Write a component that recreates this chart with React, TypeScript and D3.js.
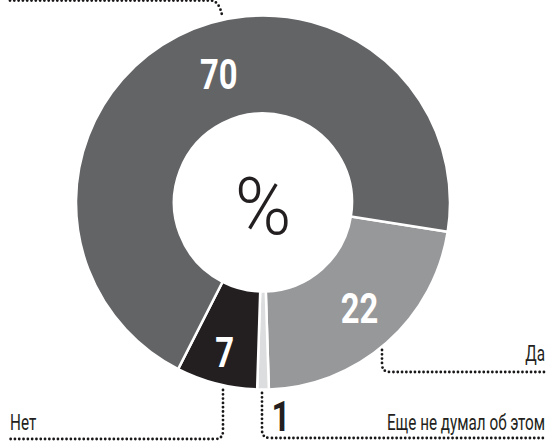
import React from "react";
import * as d3 from "d3";

// Data
const categories = ["Да", "Еще не думал об этом", "Нет", ""];
const values = [22, 1, 7, 70];
const sliceColors = ["#97989a", "#dcddde", "#231f20", "#636466"];
const centerSymbol = "%";

const W = 547;
const H = 444;
const FONT = "Roboto, 'Noto Sans', sans-serif";
const SX = 0.78; // horizontal condensing factor

function CText(props: {
  x: number;
  y: number;
  size: number;
  anchor?: "start" | "middle" | "end";
  weight?: number | string;
  fill: string;
  sx?: number;
  dy?: string;
  children: React.ReactNode;
}) {
  const { x, y, size, anchor = "start", weight = 400, fill, sx = SX, dy, children } = props;
  return (
    <text
      transform={`translate(${x},${y}) scale(${sx},1)`}
      dy={dy}
      textAnchor={anchor}
      fontSize={size}
      fontWeight={weight}
      fill={fill}
    >
      {children}
    </text>
  );
}

export default function App() {
  const cx = 263;
  const cy = 202.5;
  const R = 187;
  const r = 89;
  const start = (99 * Math.PI) / 180;

  const pie = d3
    .pie<number>()
    .sort(null)
    .value((d) => d)
    .startAngle(start)
    .endAngle(start + 2 * Math.PI);
  const arcs = pie(values);
  const arc = d3.arc<d3.PieArcDatum<number>>().innerRadius(r).outerRadius(R);

  // label placement per slice (radius, angle nudge in degrees); outside label for tiny slice
  const labelLayout = [
    { rad: 143, shift: -1, inside: true },
    { rad: 0, shift: 0, inside: false },
    { rad: 154, shift: 0, inside: true },
    { rad: 136, shift: 8, inside: true },
  ];

  const dotted = {
    fill: "none",
    stroke: "#1a1718",
    strokeWidth: 2.8,
    strokeDasharray: "0 4.3",
    strokeLinecap: "round" as const,
  };

  const labelSize = 21.5;
  const labelSx = 0.71;

  return (
    <svg
      width={W}
      height={H}
      style={{ position: "absolute", left: 0, top: 0, background: "#fff" }}
      fontFamily={FONT}
    >
      <g transform={`translate(${cx},${cy})`}>
        {arcs.map((a, i) => (
          <path key={i} d={arc(a) || ""} fill={sliceColors[i]} stroke="#fff" strokeWidth={2.5} />
        ))}
        {arcs.map((a, i) => {
          const L = labelLayout[i];
          if (!L.inside) return null;
          const ang = (a.startAngle + a.endAngle) / 2 + (L.shift * Math.PI) / 180;
          const x = L.rad * Math.sin(ang);
          const y = -L.rad * Math.cos(ang);
          return (
            <CText key={"l" + i} x={x} y={y} dy="0.36em" anchor="middle" fill="#fff" weight={700} size={42}>
              {values[i]}
            </CText>
          );
        })}
        <CText x={0} y={3} dy="0.36em" anchor="middle" fill="#231f20" size={79} weight={300} sx={0.97}>
          {centerSymbol}
        </CText>
      </g>

      {/* leader lines */}
      <path d="M10,0.5 H211 Q219,1 222,15" {...dotted} />
      <path d="M382,350 V364 Q382,372 390,372 H547" {...dotted} />
      <path d="M262,393 V430 Q262,438 270,438 H547" {...dotted} />
      <path d="M223,390 V431 Q223,439 215,439 H8" {...dotted} />

      {/* outside labels */}
      <CText x={545} y={361} anchor="end" size={labelSize} sx={labelSx} fill="#231f20">
        {categories[0]}
      </CText>
      <CText x={545} y={430} anchor="end" size={labelSize} sx={labelSx} fill="#231f20">
        {categories[1]}
      </CText>
      <CText x={10} y={430} anchor="start" size={labelSize} sx={labelSx} fill="#231f20">
        {categories[2]}
      </CText>
      <CText x={281} y={416} dy="0.36em" anchor="middle" size={42} weight={700} fill="#231f20">
        {values[1]}
      </CText>
    </svg>
  );
}
